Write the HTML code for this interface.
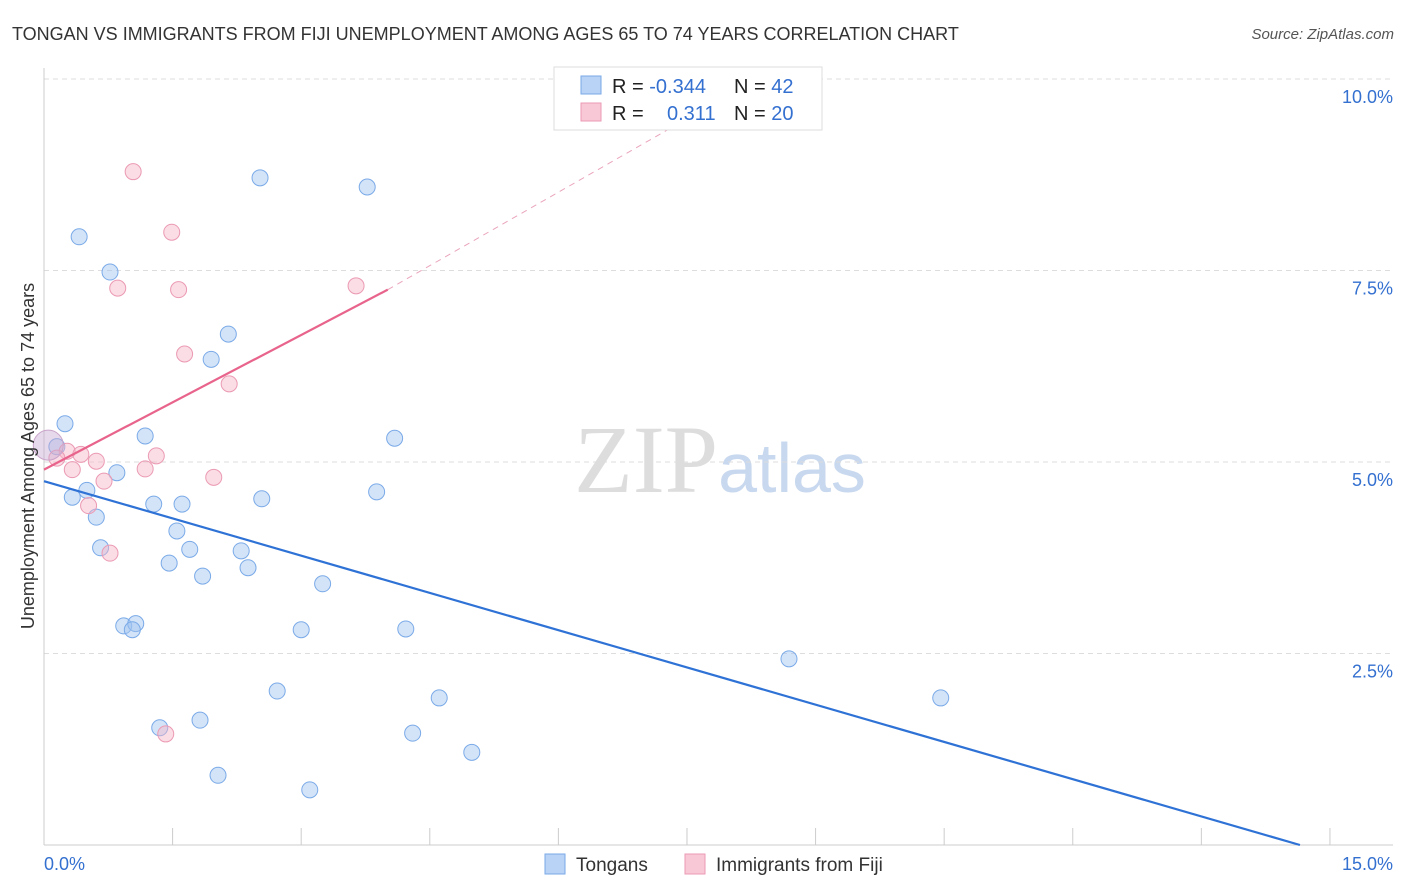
<!DOCTYPE html>
<html><head><meta charset="utf-8"><style>
body{margin:0;background:#fff;font-family:"Liberation Sans",sans-serif;}
svg{display:block}
</style></head><body>
<svg id="chart" width="1406" height="892">
<text x="12" y="40" font-size="18" fill="#333">TONGAN VS IMMIGRANTS FROM FIJI UNEMPLOYMENT AMONG AGES 65 TO 74 YEARS CORRELATION CHART</text>
<text x="1394" y="39" font-size="15" fill="#555" text-anchor="end" font-style="italic">Source: ZipAtlas.com</text>
<text x="720" y="492" font-size="96" fill="#ddd" text-anchor="middle" font-family="Liberation Serif">ZIP<tspan fill="#c8d8ee" font-family="Liberation Sans" font-size="70">atlas</tspan></text>
<g id="grid"></g><g id="axes"></g><g id="marks"></g>
<text transform="translate(34,456) rotate(-90)" font-size="18" fill="#333" text-anchor="middle">Unemployment Among Ages 65 to 74 years</text>
<g>
<rect x="554" y="67" width="268" height="63" fill="#fff" stroke="#ddd"/>
<rect x="581" y="76" width="20" height="18" fill="#b8d3f5" stroke="#7aaae8"/>
<rect x="581" y="103" width="20" height="18" fill="#f9c8d6" stroke="#eb9ab3"/>
<text x="612" y="93" font-size="20" fill="#222">R = <tspan fill="#3470d0">-0.344</tspan></text>
<text x="734" y="93" font-size="20" fill="#222">N = <tspan fill="#3470d0">42</tspan></text>
<text x="612" y="120" font-size="20" fill="#222">R = </text>
<text x="667" y="120" font-size="20" fill="#3470d0">0.311</text>
<text x="734" y="120" font-size="20" fill="#222">N = <tspan fill="#3470d0">20</tspan></text>
</g>
<g>
<rect x="545" y="854" width="20" height="20" fill="#b8d3f5" stroke="#7aaae8"/>
<text x="576" y="871" font-size="19" fill="#333">Tongans</text>
<rect x="685" y="854" width="20" height="20" fill="#f9c8d6" stroke="#eb9ab3"/>
<text x="716" y="871" font-size="19" fill="#333">Immigrants from Fiji</text>
</g>
</svg>
<script>
const yTicks=[2.5,5.0,7.5,10.0];
const xTickLabels=["0.0%","15.0%"];
const blueX=[0.245,0.15,0.41,0.77,0.50,0.33,0.61,0.85,0.66,1.18,1.28,1.61,1.55,1.46,1.70,1.85,0.93,1.07,1.03,1.35,1.82,2.03,1.95,2.15,2.52,2.54,2.30,2.38,2.72,3.00,3.10,3.25,3.77,3.88,4.09,4.22,4.30,4.61,4.99,8.69,10.46];
const blueY=[5.50,5.20,7.94,7.48,4.63,4.54,4.28,4.86,3.88,5.34,4.45,4.45,4.10,3.68,3.86,3.51,2.86,2.89,2.81,1.53,1.63,0.91,6.34,6.67,8.71,4.52,3.84,3.62,2.01,2.81,0.72,3.41,8.59,4.61,5.31,2.82,1.46,1.92,1.21,2.43,1.92];
const pinkX=[1.04,1.49,0.86,1.57,3.64,1.64,2.16,0.27,0.61,0.43,0.33,1.31,1.18,1.98,0.70,0.52,0.77,1.42,0.15];
const pinkY=[8.79,8.00,7.27,7.25,7.30,6.41,6.02,5.14,5.01,5.10,4.90,5.08,4.91,4.80,4.75,4.43,3.81,1.45,5.05];
const bigPoint=[0.05,5.22];
const blueTrend=[[0,4.75],[14.65,0]];
const pinkTrend=[[0,4.90],[4.01,7.25]];
const pinkDash=[[4.01,7.25],[7.89,9.73]];
const X=v=>44+v*85.73, Y=v=>845-v*76.6;
const NS="http://www.w3.org/2000/svg";
function mk(t,a,p){const e=document.createElementNS(NS,t);for(const k in a)e.setAttribute(k,a[k]);p.appendChild(e);return e;}
const grid=document.getElementById('grid'),axes=document.getElementById('axes'),marks=document.getElementById('marks');
yTicks.forEach(t=>{
 const l=mk('line',{x1:44,x2:1393,y1:Y(t),y2:Y(t),stroke:'#ddd','stroke-dasharray':'5,4'},grid);
 
 
 const tx=mk('text',{x:1393,y:Y(t)+24,'font-size':18,fill:'#3470d0','text-anchor':'end'},axes);
 tx.textContent=t.toFixed(1)+'%';
 
 
});
mk('line',{x1:44,x2:44,y1:68,y2:845,stroke:'#ccc'},axes);
mk('line',{x1:44,x2:1393,y1:845,y2:845,stroke:'#ccc'},axes);
for(let i=1;i<=10;i++){const x=X(i*1.5);mk('line',{x1:x,x2:x,y1:828,y2:845,stroke:'#ccc'},axes);}
const xl0=mk('text',{x:44,y:870,'font-size':18,fill:'#3470d0'},axes);xl0.textContent=xTickLabels[0];


const xl1=mk('text',{x:1393,y:870,'font-size':18,fill:'#3470d0','text-anchor':'end'},axes);xl1.textContent=xTickLabels[1];


function pt(x,y,r,f,s,n){const c=mk('circle',{cx:X(x),cy:Y(y),r:r,fill:f,stroke:s,'stroke-width':1},marks);
 
 }
blueX.forEach((x,i)=>pt(x,blueY[i],8,'rgba(160,196,240,0.45)','#7aaae8','tongan-point'));
pinkX.forEach((x,i)=>pt(x,pinkY[i],8,'rgba(246,180,200,0.45)','#eb9ab3','fiji-point'));
pt(bigPoint[0],bigPoint[1],15,'rgba(200,170,210,0.45)','#c9a3c9','large-point');
function ln(d,c,w,dash,n){const l=mk('line',{x1:X(d[0][0]),y1:Y(d[0][1]),x2:X(d[1][0]),y2:Y(d[1][1]),stroke:c,'stroke-width':w},marks);
 if(dash)l.setAttribute('stroke-dasharray',dash);
 
 }
ln(blueTrend,'#2f72d6',2.2,null,'tongan-trendline');
ln(pinkTrend,'#e8648c',2.2,null,'fiji-trendline');
ln(pinkDash,'#eaa5bb',1,'6,5','fiji-trendline-extension');
</script>
</body></html>
